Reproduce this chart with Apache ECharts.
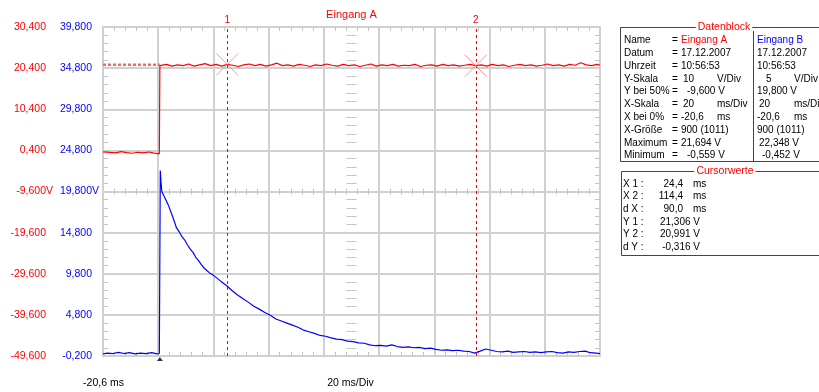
<!DOCTYPE html>
<html>
<head>
<meta charset="utf-8">
<script src="https://cdn.jsdelivr.net/npm/echarts@6/dist/echarts.min.js"></script>
<style>
html, body { margin: 0; padding: 0; background: #fff; }
#main { width: 819px; height: 392px; }
</style>
</head>
<body>
<div id="main"></div>
<script>
// scope screen: Eingang A (red) + Eingang B (blue), 20 ms/Div

// x range (ms) and tick labels of both channels
var xRange = [-20.6, 159.4];
var xStep = 20;
var ticksA = [-49.6, -39.6, -29.6, -19.6, -9.6, 0.4, 10.4, 20.4, 30.4];
var ticksB = [-0.2, 4.8, 9.8, 14.8, 19.8, 24.8, 29.8, 34.8, 39.8];

// Eingang A samples (ms, V)
var timeA = [-20.6, -18, -16, -14, -12, -10, -8, -6, -4, -2, -0.2, 0,
  0.4, 2.4, 4.4, 6.4, 8.4, 10.4, 12.4, 14.4, 16.4, 18.4,
  20.4, 22.4, 24.4, 26.4, 28.4, 30.4, 32.4, 34.4, 36.4, 38.4,
  40.4, 42.4, 44.4, 46.4, 48.4, 50.4, 52.4, 54.4, 56.4, 58.4,
  60.4, 62.4, 64.4, 66.4, 68.4, 70.4, 72.4, 74.4, 76.4, 78.4,
  80.4, 82.4, 84.4, 86.4, 88.4, 90.4, 92.4, 94.4, 96.4, 98.4,
  100.4, 102.4, 104.4, 106.4, 108.4, 110.4, 112.4, 114.4, 116.4, 118.4,
  120.4, 122.4, 124.4, 126.4, 128.4, 130.4, 132.4, 134.4, 136.4, 138.4,
  140.4, 142.4, 144.4, 146.4, 148.4, 150.4, 152.4, 154.4, 156.4, 158.4, 159.4];
var voltA = [0.05, -0.1, -0.2, 0.1, -0.15, -0.3, -0.05, -0.2, 0.0, -0.25, -0.45, 21.0,
  21.0, 21.3, 20.9, 21.2, 21.0, 21.4, 20.9, 21.2, 21.5, 21.0,
  21.3, 20.9, 21.306, 21.1, 20.8, 21.2, 21.4, 21.0, 21.3, 20.9,
  21.2, 21.6, 21.0, 21.2, 20.9, 21.3, 21.1, 20.8, 21.2, 21.0,
  21.4, 21.1, 20.9, 21.3, 21.0, 21.2, 20.8, 21.1, 21.4, 20.9,
  21.2, 21.0, 21.3, 20.9, 21.1, 21.0, 21.3, 20.8, 21.1, 21.2,
  20.9, 21.3, 21.0, 21.2, 20.9, 21.1, 21.3, 20.991, 21.2, 20.9,
  21.3, 21.0, 21.2, 20.8, 21.1, 21.3, 21.0, 21.2, 20.9, 21.1,
  21.4, 21.0, 21.2, 20.9, 21.3, 21.1, 21.694, 21.2, 21.0, 21.3, 21.1];

// Eingang B samples (ms, V)
var timeB = [-20.6, -19, -17, -15, -13, -11, -9, -7, -5, -3, -1, -0.2, 0,
  0.15, 0.4, 0.7, 1.2, 2, 3, 4, 5, 6, 7, 8, 9, 10,
  11, 12, 13, 14, 15, 16, 17, 18, 19, 20,
  22, 24, 26, 28, 30, 32, 34, 36, 38, 40,
  42, 44, 46, 48, 50, 52, 54, 56, 58, 60,
  62, 64, 66, 68, 70, 72, 74, 76, 78, 80,
  82, 84, 86, 88, 90, 92, 94, 96, 98, 100,
  102, 104, 106, 108, 110, 112, 114, 116, 118, 120,
  122, 124, 126, 128, 130, 132, 134, 136, 138, 140,
  142, 144, 146, 148, 150, 152, 154, 156, 158, 159.4];
var voltB = [0.05, 0.15, 0.1, 0.25, 0.1, 0.2, 0.05, 0.15, 0.1, 0.2, 0.05, 0.1, 0.1,
  22.348, 21.0, 19.8, 19.6, 18.9, 18.2, 17.3, 16.4, 15.4, 14.9, 14.3, 13.9, 13.3,
  12.8, 12.4, 11.8, 11.4, 10.9, 10.5, 10.2, 9.9, 9.7, 9.45,
  8.9, 8.4, 7.8, 7.25, 6.8, 6.35, 5.85, 5.5, 5.1, 4.75,
  4.3, 4.05, 3.8, 3.55, 3.3, 2.95, 2.75, 2.55, 2.3, 2.2,
  2.0, 1.85, 1.8, 1.6, 1.55, 1.4, 1.35, 1.15, 1.05, 1.1,
  1.0, 1.15, 0.95, 0.85, 0.9, 0.8, 0.85, 0.7, 0.75, 0.6,
  0.5, 0.55, 0.45, 0.5, 0.4, 0.35, 0.15, 0.4, 0.65, 0.5,
  0.35, 0.3, 0.4, 0.25, 0.3, 0.35, 0.25, 0.3, 0.2, 0.3,
  0.35, 0.2, 0.15, 0.3, 0.25, 0.35, 0.4, 0.2, 0.15, 0.1];

// cursors (on Eingang A) and trigger level marker
var cursorT = [24.4, 114.4];
var cursorV = [21.306, 20.991];
var cursorName = ['1', '2'];
var levelT = [-20.6, 0];
var levelV = [21.2, 21.2];
var triggerT = 0;

// Datenblock / Cursorwerte texts
var dbLabels = ['Name', 'Datum', 'Uhrzeit', 'Y-Skala', 'Y bei 50%', 'X-Skala', 'X bei 0%', 'X-Größe', 'Maximum', 'Minimum'];
var dbA = ['Eingang A', '17.12.2007', '10:56:53', '10', '-9,600 V', '20', '-20,6', '900 (1011)', '21,694 V', '-0,559 V'];
var dbAUnit = ['', '', '', 'V/Div', '', 'ms/Div', 'ms', '', '', ''];
var dbB = ['Eingang B', '17.12.2007', '10:56:53', '5', '19,800 V', '20', '-20,6', '900 (1011)', '22,348 V', '-0,452 V'];
var dbBUnit = ['', '', '', 'V/Div', '', 'ms/Div', 'ms', '', '', ''];
var cwLabels = ['X 1 :', 'X 2 :', 'd X :', 'Y 1 :', 'Y 2 :', 'd Y :'];
var cwValues = ['24,4', '114,4', '90,0', '21,306 V', '20,991 V', '-0,316 V'];
var cwUnits = ['ms', 'ms', 'ms', '', '', ''];

var RED = '#ff0000';
var BLUE = '#0000ff';
var GRID = '#d0d0d0';
var TICK = '#c4c4c4';
var FONT = '"Liberation Sans", Arial, sans-serif';
var PF = '10px ' + FONT;

function fmt(v) {
  return v.toFixed(3).replace('.', ',');
}

function pairs(t, v) {
  var out = [];
  for (var i = 0; i < t.length; i++) out.push([t[i], v[i]]);
  return out;
}

var chart = echarts.init(document.getElementById('main'), null, { renderer: 'canvas' });

var minA = ticksA[0], maxA = ticksA[ticksA.length - 1];
var minB = ticksB[0], maxB = ticksB[ticksB.length - 1];
var midA = ticksA[4], midB = ticksB[4];

function tickAxisX(extra) {
  var base = {
    type: 'value', min: xRange[0], max: xRange[1], interval: xStep,
    axisLine: { show: false, onZero: false },
    axisTick: { show: false, inside: true },
    minorTick: { show: true, splitNumber: 5, length: 4, lineStyle: { color: TICK, width: 1 } },
    axisLabel: { show: false },
    splitLine: { show: false }
  };
  return Object.assign(base, extra);
}
function tickAxisY(extra) {
  var base = {
    type: 'value', min: minA, max: maxA, interval: 10,
    axisLine: { show: false, onZero: false },
    axisTick: { show: false, inside: true },
    minorTick: { show: true, splitNumber: 5, length: 5, lineStyle: { color: TICK, width: 1 } },
    axisLabel: { show: false },
    splitLine: { show: false }
  };
  return Object.assign(base, extra);
}
var borderLine = { show: true, onZero: false, lineStyle: { color: GRID, width: 2 } };

// texts of the right panel
var g = [];
function txt(x, y, s, color, align) {
  g.push({ type: 'text', x: x, y: y, z: 10, style: { text: s, fill: color || '#000', font: PF, align: align || 'left', verticalAlign: 'middle' } });
}
function ln(x1, y1, x2, y2, c) {
  g.push({ type: 'line', z: 9, shape: { x1: x1, y1: y1, x2: x2, y2: y2 }, style: { stroke: c || '#444', lineWidth: 1 } });
}

// Datenblock frame
ln(620.5, 27.5, 830, 27.5);
ln(620.5, 27.5, 620.5, 161.5);
ln(620.5, 161.5, 830, 161.5);
ln(753.5, 31, 753.5, 161.5);
g.push({ type: 'text', x: 724, y: 27.5, z: 11, style: { text: 'Datenblock', fill: RED, font: '10.5px ' + FONT, align: 'center', verticalAlign: 'middle', backgroundColor: '#fff', padding: [0, 2] } });
for (var i = 0; i < dbLabels.length; i++) {
  var y = 40.5 + i * 12.8;
  txt(624, y, dbLabels[i]);
  txt(672, y, '=');
  var ax = (i === 3 || i === 5) ? 683 : (i === 4 || i === 9 ? 687 : 681);
  txt(ax, y, dbA[i], i === 0 ? RED : '#000');
  if (dbAUnit[i]) txt(717, y, dbAUnit[i]);
  var bx = (i === 3) ? 766 : (i === 5 || i === 8 ? 759 : (i === 9 ? 762 : 757));
  txt(bx, y, dbB[i], i === 0 ? BLUE : '#000');
  if (dbBUnit[i]) txt(794, y, dbBUnit[i]);
}

// Cursorwerte frame
ln(621.5, 171.5, 830, 171.5);
ln(621.5, 171.5, 621.5, 255.5);
ln(621.5, 255.5, 830, 255.5);
g.push({ type: 'text', x: 725, y: 171.5, z: 11, style: { text: 'Cursorwerte', fill: RED, font: '10.5px ' + FONT, align: 'center', verticalAlign: 'middle', backgroundColor: '#fff', padding: [0, 2] } });
for (var j = 0; j < cwLabels.length; j++) {
  var yy = 184 + j * 12.65;
  txt(623, yy, cwLabels[j]);
  if (cwUnits[j]) {
    txt(683, yy, cwValues[j], '#000', 'right');
    txt(693, yy, cwUnits[j]);
  } else {
    txt(700, yy, cwValues[j], '#000', 'right');
  }
}

// titles / footer
g.push({ type: 'text', x: 351.5, y: 15, z: 10, style: { text: 'Eingang A', fill: RED, font: '11px ' + FONT, align: 'center', verticalAlign: 'middle' } });
g.push({ type: 'text', x: 103.5, y: 383, z: 10, style: { text: '-20,6 ms', fill: '#000', font: '10.5px ' + FONT, align: 'center', verticalAlign: 'middle' } });
g.push({ type: 'text', x: 350.5, y: 383, z: 10, style: { text: '20 ms/Div', fill: '#000', font: '10.5px ' + FONT, align: 'center', verticalAlign: 'middle' } });

var option = {
  animation: false,
  backgroundColor: '#fff',
  grid: { left: 103, top: 27, width: 497, height: 329, containLabel: false },
  xAxis: [
    tickAxisX({
      position: 'bottom',
      axisLine: borderLine,
      splitLine: { show: true, lineStyle: { color: GRID, width: 2 } }
    }),
    tickAxisX({ position: 'top', axisLine: borderLine }),
    tickAxisX({ position: 'bottom', offset: -164.5, minorTick: { show: true, splitNumber: 5, length: 3, lineStyle: { color: TICK } } }),
    tickAxisX({ position: 'bottom', offset: -164.5, axisTick: { show: false, inside: false }, minorTick: { show: true, splitNumber: 5, length: 3, lineStyle: { color: TICK } } })
  ],
  yAxis: [
    {
      type: 'value', min: minA, max: maxA, interval: 10, position: 'left', offset: 46,
      axisLine: { show: false, onZero: false }, axisTick: { show: false },
      splitLine: { show: true, lineStyle: { color: GRID, width: 2 } },
      axisLabel: {
        margin: 4, fontFamily: FONT, fontSize: 10.5, color: RED,
        formatter: function (v) {
          return Math.abs(v - midA) < 1e-6 ? '{n|' + fmt(v) + '}{u|V}' : '{n|' + fmt(v) + '}{h|V}';
        },
        rich: { n: { color: RED, fontSize: 10.5, fontFamily: FONT }, u: { color: RED, fontSize: 10.5, fontFamily: FONT }, h: { color: 'rgba(0,0,0,0)', fontSize: 10.5, fontFamily: FONT } }
      }
    },
    {
      type: 'value', min: minB, max: maxB, interval: 5, position: 'left', offset: 0,
      axisLine: borderLine,
      axisTick: { show: false, inside: true },
      minorTick: { show: true, splitNumber: 5, length: 5, lineStyle: { color: TICK } },
      splitLine: { show: false },
      axisLabel: {
        margin: 4, fontFamily: FONT, fontSize: 10.5, color: BLUE,
        formatter: function (v) {
          return Math.abs(v - midB) < 1e-6 ? '{n|' + fmt(v) + '}{u|V}' : '{n|' + fmt(v) + '}{h|V}';
        },
        rich: { n: { color: BLUE, fontSize: 10.5, fontFamily: FONT }, u: { color: BLUE, fontSize: 10.5, fontFamily: FONT }, h: { color: 'rgba(0,0,0,0)', fontSize: 10.5, fontFamily: FONT } }
      }
    },
    tickAxisY({ position: 'right', axisLine: borderLine }),
    tickAxisY({ position: 'left', offset: -248.5 }),
    tickAxisY({ position: 'left', offset: -248.5, axisTick: { show: false, inside: false } })
  ],
  graphic: g,
  series: [
    {
      name: 'Pegel', type: 'line', xAxisIndex: 0, yAxisIndex: 0,
      data: pairs(levelT, levelV), symbol: 'none', silent: true,
      lineStyle: { color: '#f06a6a', width: 2.5, type: [3, 2] }, z: 3
    },
    {
      name: 'Eingang B', type: 'line', xAxisIndex: 0, yAxisIndex: 1,
      data: pairs(timeB, voltB), symbol: 'none', silent: true,
      lineStyle: { color: BLUE, width: 1.2 }, z: 4
    },
    {
      name: 'Eingang A', type: 'line', xAxisIndex: 0, yAxisIndex: 0,
      data: pairs(timeA, voltA), symbol: 'none', silent: true,
      lineStyle: { color: RED, width: 1.2 }, z: 5,
      markLine: {
        silent: true, symbol: ['none', 'none'], animation: false,
        lineStyle: { color: RED, width: 1, type: [3, 3] },
        label: { show: true, position: 'end', distance: 2, color: RED, fontSize: 10, fontFamily: FONT, formatter: function (p) { return p.name; } },
        data: cursorT.map(function (t, k) { return { name: cursorName[k], xAxis: t }; })
      }
    },
    {
      name: 'Cursor', type: 'scatter', xAxisIndex: 0, yAxisIndex: 0,
      data: pairs(cursorT, cursorV), silent: true, z: 6,
      symbol: 'path://M0,0L20,20M20,0L0,20', symbolSize: 22,
      itemStyle: { color: 'rgba(0,0,0,0)', borderColor: '#ff7a7a', borderWidth: 1 }
    },
    {
      name: 'Trigger', type: 'scatter', xAxisIndex: 0, yAxisIndex: 1,
      data: [[triggerT, minB]], silent: true, z: 6,
      symbol: 'triangle', symbolSize: [6, 4], symbolOffset: [0, 3],
      itemStyle: { color: '#000' }
    }
  ]
};

chart.setOption(option);
</script>
</body>
</html>
